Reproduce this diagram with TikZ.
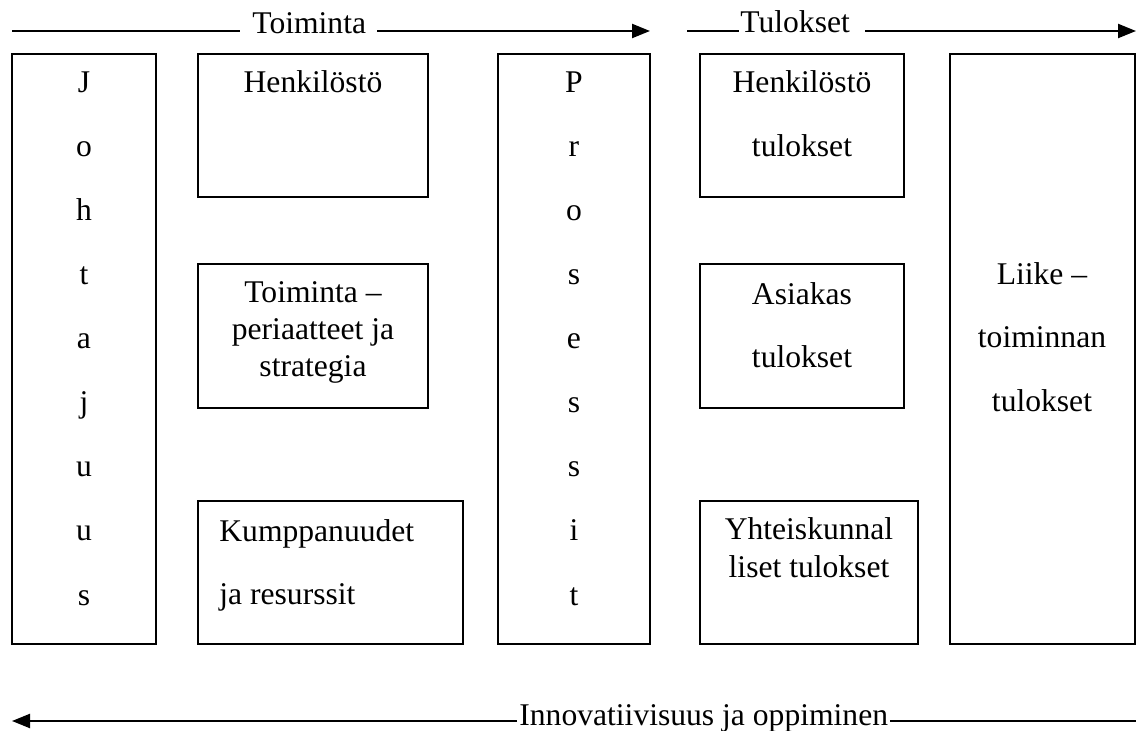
\documentclass[tikz,border=0pt]{standalone}
\usepackage{fontspec}
\setmainfont{Liberation Serif}
\usetikzlibrary{arrows.meta,fit}
\begin{document}
\begin{tikzpicture}[x=0.5pt,y=-0.5pt,
  box/.style={draw, line width=0.8pt, inner sep=0pt},
  txt/.style={inner sep=0pt, anchor=base, font=\fontsize{15.8}{18}\selectfont},
  ltxt/.style={txt, anchor=base west},
  ln/.style={line width=1.1pt},
  arr/.style={line width=1.1pt, -{Triangle[length=9pt,width=7pt]}}]
\useasboundingbox (0,0) rectangle (1140,731);

% boxes
\node[box, fit={(12,54) (156,644)}] (joh) {};
\node[box, fit={(198,54) (428,197)}] (henk) {};
\node[box, fit={(198,264) (428,408)}] (toim) {};
\node[box, fit={(198,501) (463,644)}] (kump) {};
\node[box, fit={(498,54) (650,644)}] (pros) {};
\node[box, fit={(700,54) (904,197)}] (henkt) {};
\node[box, fit={(700,264) (904,408)}] (asia) {};
\node[box, fit={(700,501) (918,644)}] (yht) {};
\node[box, fit={(950,54) (1135,644)}] (liike) {};

% vertical words
\foreach \l [count=\i] in {J,o,h,t,a,j,u,u,s}
  \node[txt] (jl\i) at (84,{93+64*(\i-1)}) {\l};
\foreach \l [count=\i] in {P,r,o,s,e,s,s,i,t}
  \node[txt] (pl\i) at (574,{93+64*(\i-1)}) {\l};

% box texts
\node[txt] (henk1) at (313,93) {Henkilöstö};
\node[txt] (toim1) at (313,303) {Toiminta –};
\node[txt] (toim2) at (313,340) {periaatteet ja};
\node[txt] (toim3) at (313,377) {strategia};
\node[ltxt] (kump1) at (219,542) {Kumppanuudet};
\node[ltxt] (kump2) at (219,604) {ja resurssit};
\node[txt] (henkt1) at (802,93) {Henkilöstö};
\node[txt] (henkt2) at (802,157) {tulokset};
\node[txt] (asia1) at (802,305) {Asiakas};
\node[txt] (asia2) at (802,368) {tulokset};
\node[txt] (yht1) at (809,540) {Yhteiskunnal};
\node[txt] (yht2) at (809,577) {liset tulokset};
\node[txt] (liike1) at (1042,285) {Liike –};
\node[txt] (liike2) at (1042,348) {toiminnan};
\node[txt] (liike3) at (1042,412) {tulokset};

% header: Toiminta
\node[ltxt] (hToim) at (252,34) {Toiminta};
\coordinate (ta) at (12,31);
\coordinate (tb) at (240,31);
\coordinate (tc) at (377,31);
\coordinate (td) at (650,31);
\draw[ln] (ta) -- (tb);
\draw[arr] (tc) -- (td);

% header: Tulokset
\node[ltxt] (hTul) at (740,33) {Tulokset};
\coordinate (ua) at (687,31);
\coordinate (ub) at (739,31);
\coordinate (uc) at (865,31);
\coordinate (ud) at (1136,31);
\draw[ln] (ua) -- (ub);
\draw[arr] (uc) -- (ud);

% bottom: Innovatiivisuus ja oppiminen
\node[ltxt] (hInn) at (519,725) {Innovatiivisuus ja oppiminen};
\coordinate (ia) at (12,721);
\coordinate (ib) at (517,721);
\coordinate (ic) at (890,721);
\coordinate (id) at (1136,721);
\draw[arr] (ib) -- (ia);
\draw[ln] (ic) -- (id);
\end{tikzpicture}
\end{document}
